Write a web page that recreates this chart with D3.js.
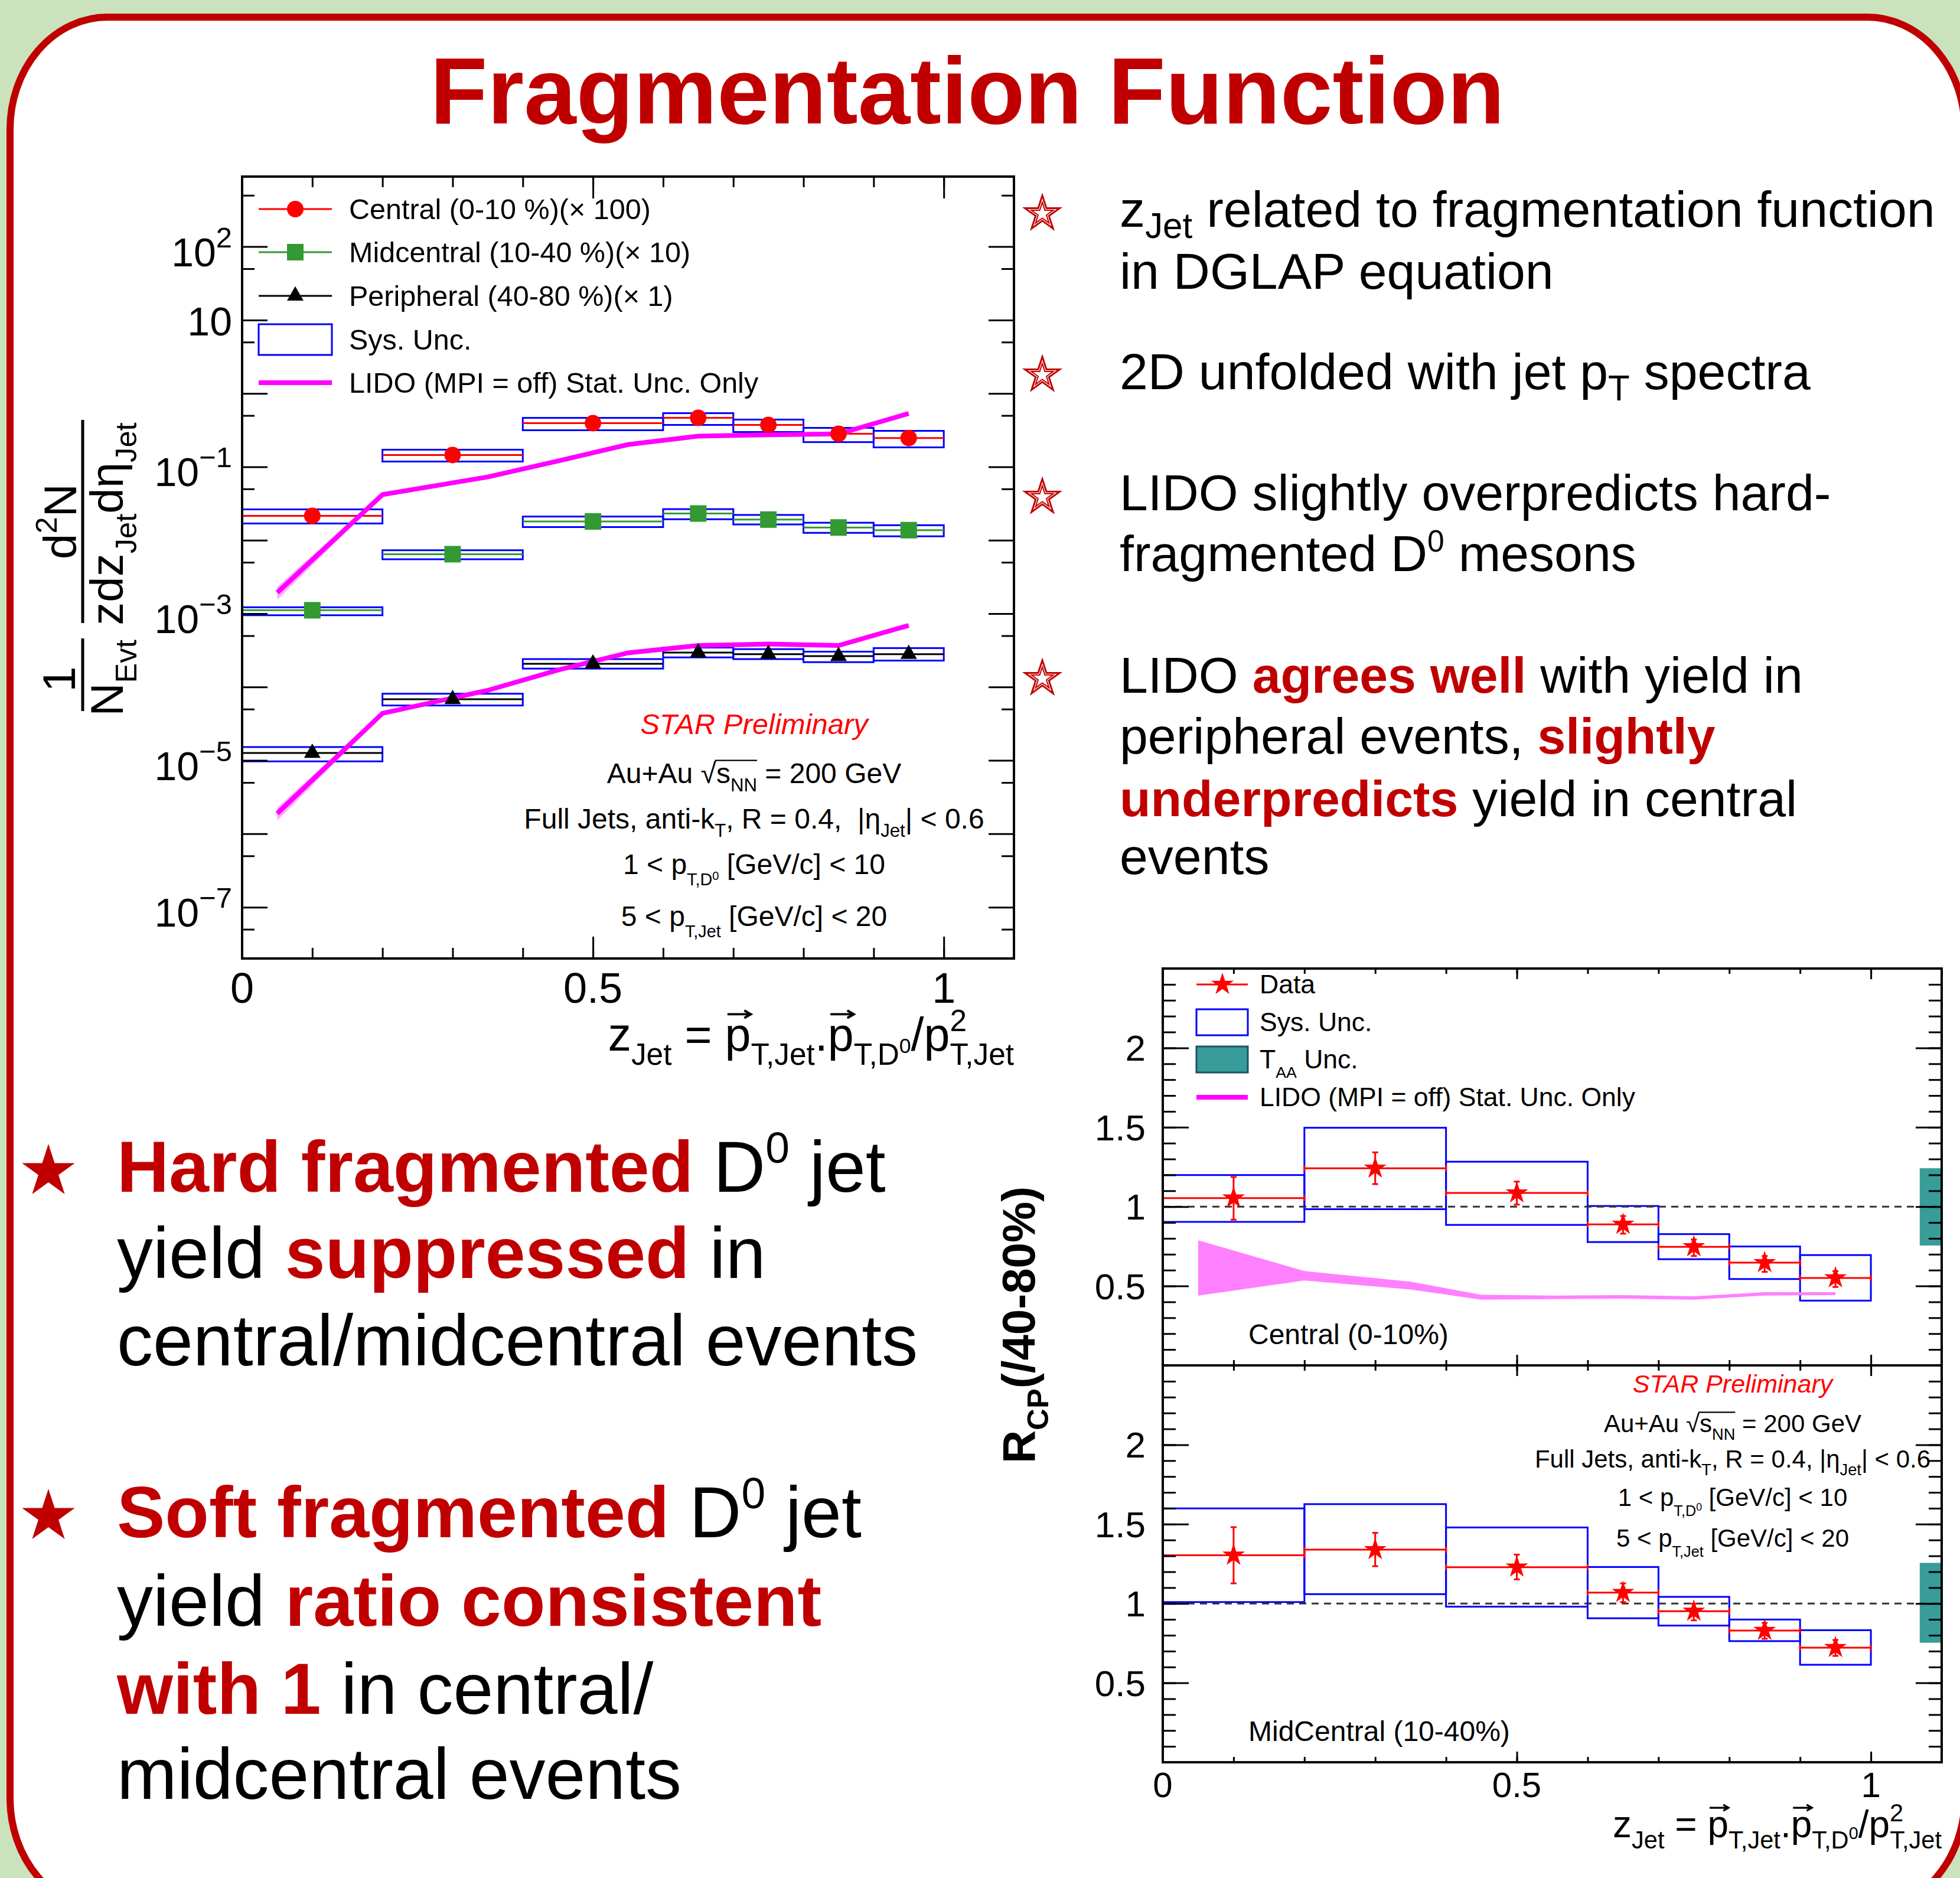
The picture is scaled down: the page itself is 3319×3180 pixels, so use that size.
<!DOCTYPE html>
<html>
<head>
<meta charset="utf-8">
<script src="https://cdn.jsdelivr.net/npm/d3@7"></script>
<style>
body { margin: 0; background: #cbe3bd; }
text { font-family: "Liberation Sans", Arial, Helvetica, sans-serif; white-space: pre; }
</style>
</head>
<body>
<script>
// bins of z_Jet
var binLo = [0, 0.2, 0.4, 0.6, 0.7, 0.8, 0.9];
var binHi = [0.2, 0.4, 0.6, 0.7, 0.8, 0.9, 1.0];
var binMid = [0.1, 0.3, 0.5, 0.65, 0.75, 0.85, 0.95];

// fragmentation function yields (scaled as in legend)
var centralY = [0.0215, 0.145, 0.393, 0.464, 0.372, 0.282, 0.247];
var centralSysHi = [0.0263, 0.171, 0.464, 0.538, 0.44, 0.339, 0.309];
var centralSysLo = [0.0169, 0.118, 0.315, 0.372, 0.298, 0.217, 0.184];
var midY = [0.00111, 0.00645, 0.0180, 0.0231, 0.0191, 0.0149, 0.0137];
var midSysHi = [0.00122, 0.0073, 0.0210, 0.0265, 0.0221, 0.0173, 0.0160];
var midSysLo = [0.00095, 0.0055, 0.0151, 0.0193, 0.0164, 0.0126, 0.0113];
var periY = [1.26e-5, 6.8e-5, 2.07e-4, 2.94e-4, 2.8e-4, 2.63e-4, 2.8e-4];
var periSysHi = [1.52e-5, 8.1e-5, 2.4e-4, 3.45e-4, 3.28e-4, 3.03e-4, 3.39e-4];
var periSysLo = [9.7e-6, 5.6e-5, 1.78e-4, 2.53e-4, 2.4e-4, 2.18e-4, 2.29e-4];

// LIDO (MPI = off)
var lidoX = [0.05, 0.2, 0.35, 0.45, 0.55, 0.65, 0.75, 0.85, 0.95];
var lidoCentral = [1.93e-3, 0.0418, 0.0728, 0.12, 0.201, 0.262, 0.273, 0.28, 0.533];
var lidoPeri = [1.89e-6, 4.37e-5, 9.0e-5, 1.7e-4, 2.92e-4, 3.67e-4, 3.85e-4, 3.67e-4, 6.9e-4];
var lidoRelErr = [0.2, 0.05, 0.03, 0.03, 0.02, 0.02, 0.02, 0.02, 0.02];

// R_CP
var rcpCentral = [1.054, 1.242, 1.086, 0.888, 0.747, 0.647, 0.551];
var rcpCentralStatHi = [1.187, 1.342, 1.158, 0.941, 0.793, 0.689, 0.594];
var rcpCentralStatLo = [0.918, 1.142, 1.013, 0.830, 0.689, 0.589, 0.494];
var rcpCentralSysHi = [1.199, 1.497, 1.283, 1.004, 0.827, 0.749, 0.695];
var rcpCentralSysLo = [0.904, 0.984, 0.885, 0.777, 0.669, 0.544, 0.408];
var rcpMid = [1.304, 1.339, 1.229, 1.069, 0.951, 0.83, 0.722];
var rcpMidStatHi = [1.481, 1.445, 1.308, 1.127, 0.999, 0.878, 0.77];
var rcpMidStatLo = [1.127, 1.235, 1.152, 1.009, 0.894, 0.778, 0.67];
var rcpMidSysHi = [1.599, 1.626, 1.479, 1.23, 1.042, 0.899, 0.832];
var rcpMidSysLo = [1.009, 1.059, 0.980, 0.907, 0.861, 0.763, 0.614];
var lidoRcpHi = [0.788, 0.594, 0.527, 0.445, 0.44, 0.443, 0.435, 0.461, 0.461];
var lidoRcpLo = [0.439, 0.535, 0.478, 0.414, 0.418, 0.42, 0.414, 0.44, 0.443];
var taaCentral = [0.755, 1.242];
var taaMid = [0.753, 1.256];

// tick labels
var logTicks = [1e2, 1e1, 1e-1, 1e-3, 1e-5, 1e-7];
var logTickExp = ["2", "", "\u22121", "\u22123", "\u22125", "\u22127"];
var zTicks = [0, 0.5, 1];
var zTickLabels = ["0", "0.5", "1"];
var rcpTicks = [0.5, 1, 1.5, 2];
var rcpTickLabels = ["0.5", "1", "1.5", "2"];

var W = 3319, H = 3180;
var RED = "#c00000";

var svg = d3.select("body").append("svg")
    .attr("width", W)
    .attr("height", H);

svg.append("rect")
    .attr("width", W)
    .attr("height", H)
    .attr("fill", "#cbe3bd");

svg.append("rect")
    .attr("x", 17)
    .attr("y", 29)
    .attr("width", 3310)
    .attr("height", 3206)
    .attr("rx", 165)
    .attr("ry", 190)
    .attr("fill", "#fff")
    .attr("stroke", RED)
    .attr("stroke-width", 12);

// text with sub/superscripts; parts are strings or {t, sh, sc, bold, fill, arrow, over}
function rich(x, y, size, parts, opts) {
    opts = opts || {};
    var t = (opts.parent || svg).append("text")
        .attr("x", x)
        .attr("y", y)
        .attr("xml:space", "preserve")
        .attr("font-size", size)
        .attr("text-anchor", opts.anchor || "start")
        .attr("fill", opts.fill || "#000");
    if (opts.weight) t.attr("font-weight", opts.weight);
    if (opts.style) t.attr("font-style", opts.style);
    var shift = 0, idx = 0, arrows = [], overs = [];
    parts.forEach(function(p) {
        if (typeof p === "string") p = {t: p};
        var sh = (p.sh || 0) * size;
        var ts = t.append("tspan").attr("dy", sh - shift).text(p.t);
        if (p.sc) ts.attr("font-size", size * p.sc);
        if (p.dx) ts.attr("dx", p.dx * size);
        if (p.fill) ts.attr("fill", p.fill);
        if (p.bold) ts.attr("font-weight", "bold");
        if (p.arrow) arrows.push(idx);
        if (p.over) for (var k = 0; k < p.t.length; k++) overs.push(idx + k);
        idx += p.t.length;
        shift = sh;
    });
    var node = t.node(), g = opts.parent || svg;
    arrows.forEach(function(i) {
        var e = node.getExtentOfChar(i);
        var ay = y - 0.78 * size, a0 = e.x + 0.1 * e.width, a1 = e.x + e.width;
        g.append("path")
            .attr("d", "M" + a0 + "," + ay + "H" + a1 + "M" + (a1 - 0.14 * size) + "," + (ay - 0.08 * size) +
                "L" + a1 + "," + ay + "L" + (a1 - 0.14 * size) + "," + (ay + 0.08 * size))
            .attr("fill", "none")
            .attr("stroke", "#000")
            .attr("stroke-width", 0.05 * size);
    });
    if (overs.length) {
        var xs = overs.map(function(i) { var e = node.getExtentOfChar(i); return [e.x, e.x + e.width]; });
        g.append("line")
            .attr("x1", d3.min(xs, function(d) { return d[0]; }) - 0.04 * size)
            .attr("x2", d3.max(xs, function(d) { return d[1]; }))
            .attr("y1", y - 0.8 * size)
            .attr("y2", y - 0.8 * size)
            .attr("stroke", "#000")
            .attr("stroke-width", 0.05 * size);
    }
    return t;
}

function sub(s, sc) { return {t: s, sh: 0.3, sc: sc || 0.65}; }
function sup(s, sc) { return {t: s, sh: -0.42, sc: sc || 0.65}; }

function inTicks(scale, axisFn, tr, vals, len) {
    var g = svg.append("g")
        .attr("transform", tr)
        .call(axisFn(scale).tickValues(vals).tickSize(-len).tickSizeOuter(0).tickFormat(""));
    g.select(".domain").remove();
    g.selectAll(".tick line").attr("stroke", "#000").attr("stroke-width", 3);
}

// title
svg.append("text")
    .attr("x", 1638)
    .attr("y", 209)
    .text("Fragmentation Function")
    .attr("text-anchor", "middle")
    .attr("font-size", 159)
    .attr("font-weight", "bold")
    .attr("fill", RED);

// ================= fragmentation function plot =================
var fx = d3.scaleLinear().domain([0, 1.1]).range([410, 1717]);
var fy = d3.scaleLog().domain([2e-8, 900]).range([1623, 299]);

var ffSeries = [
    {y: centralY, lo: centralSysLo, hi: centralSysHi, color: "#ff0000", marker: "circle"},
    {y: midY, lo: midSysLo, hi: midSysHi, color: "#339933", marker: "square"},
    {y: periY, lo: periSysLo, hi: periSysHi, color: "#000000", marker: "triangle"}
];

ffSeries.forEach(function(s) {
    svg.append("g").selectAll("rect")
        .data(s.y).enter().append("rect")
        .attr("x", function(d, i) { return fx(binLo[i]); })
        .attr("y", function(d, i) { return fy(s.hi[i]); })
        .attr("width", function(d, i) { return fx(binHi[i]) - fx(binLo[i]); })
        .attr("height", function(d, i) { return fy(s.lo[i]) - fy(s.hi[i]); })
        .attr("fill", "none")
        .attr("stroke", "#0000ff")
        .attr("stroke-width", 3);
    svg.append("g").selectAll("line")
        .data(s.y).enter().append("line")
        .attr("x1", function(d, i) { return fx(binLo[i]); })
        .attr("x2", function(d, i) { return fx(binHi[i]); })
        .attr("y1", function(d) { return fy(d); })
        .attr("y2", function(d) { return fy(d); })
        .attr("stroke", s.color)
        .attr("stroke-width", 3);
});

[lidoCentral, lidoPeri].forEach(function(vals) {
    svg.append("path")
        .datum(vals)
        .attr("d", d3.area()
            .x(function(d, i) { return fx(lidoX[i]); })
            .y0(function(d, i) { return fy(d * (1 - lidoRelErr[i])); })
            .y1(function(d, i) { return fy(d * (1 + lidoRelErr[i])); }))
        .attr("fill", "#ff66ff")
        .attr("opacity", 0.55);
    svg.append("path")
        .datum(vals)
        .attr("d", d3.line()
            .x(function(d, i) { return fx(lidoX[i]); })
            .y(function(d) { return fy(d); }))
        .attr("fill", "none")
        .attr("stroke", "#ff00ff")
        .attr("stroke-width", 8);
});

var symTri = d3.symbol().type(d3.symbolTriangle).size(340);
var symSquare = d3.symbol().type(d3.symbolSquare).size(784);
var symCircle = d3.symbol().type(d3.symbolCircle).size(616);
var symStar = d3.symbol().type(d3.symbolStar).size(450);
var markerOf = {circle: symCircle, square: symSquare, triangle: symTri};

ffSeries.forEach(function(s) {
    svg.append("g").selectAll("path")
        .data(s.y).enter().append("path")
        .attr("d", markerOf[s.marker])
        .attr("transform", function(d, i) { return "translate(" + fx(binMid[i]) + "," + fy(d) + ")"; })
        .attr("fill", s.color);
});

// ticks
var decades = [1e-7, 1e-6, 1e-5, 1e-4, 1e-3, 1e-2, 1e-1, 1, 10, 100];
var halfDecades = [5e-8, 5e-7, 5e-6, 5e-5, 5e-4, 5e-3, 5e-2, 5e-1, 5, 50, 500];
var zMinor = d3.range(1, 11).map(function(i) { return i / 10; });
inTicks(fy, d3.axisLeft, "translate(410,0)", decades, 43);
inTicks(fy, d3.axisLeft, "translate(410,0)", halfDecades, 21);
inTicks(fy, d3.axisRight, "translate(1717,0)", decades, 43);
inTicks(fy, d3.axisRight, "translate(1717,0)", halfDecades, 21);
inTicks(fx, d3.axisTop, "translate(0,299)", [0.5, 1], 37);
inTicks(fx, d3.axisTop, "translate(0,299)", zMinor, 18);
inTicks(fx, d3.axisBottom, "translate(0,1623)", [0.5, 1], 37);
inTicks(fx, d3.axisBottom, "translate(0,1623)", zMinor, 18);

svg.append("rect")
    .attr("x", 410)
    .attr("y", 299)
    .attr("width", 1307)
    .attr("height", 1324)
    .attr("fill", "none")
    .attr("stroke", "#000")
    .attr("stroke-width", 4);

logTicks.forEach(function(v, i) {
    var parts = logTickExp[i] ? ["10", {t: logTickExp[i], sh: -0.47, sc: 0.72}] : ["10"];
    rich(393, fy(v) + (logTickExp[i] ? 33 : 26), 68, parts, {anchor: "end"});
});
zTicks.forEach(function(v, i) {
    svg.append("text")
        .attr("x", fx(v))
        .attr("y", 1698)
        .text(zTickLabels[i])
        .attr("text-anchor", "middle")
        .attr("font-size", 72);
});

rich(1717, 1779, 79, ["z", sub("Jet"), " = ", {t: "p", arrow: true}, sub("T,Jet"), ".",
    {t: "p", arrow: true}, sub("T,D"), {t: "0", sh: 0.05, sc: 0.45}, {t: "/p"}, sup("2"),
    {t: "T,Jet", sh: 0.3, sc: 0.65, dx: -0.36}], {anchor: "end"});

// y title (rotated fraction)
var yt = svg.append("g").attr("transform", "rotate(-90)");
rich(-1150, 127, 78, ["1"], {parent: yt, anchor: "middle"});
rich(-1148, 208, 78, ["N", sub("Evt")], {parent: yt, anchor: "middle"});
rich(-883, 129, 78, ["d", sup("2"), "N"], {parent: yt, anchor: "middle"});
rich(-887, 208, 78, ["zdz", sub("Jet"), "d\u03b7", sub("Jet")], {parent: yt, anchor: "middle"});
svg.append("line").attr("x1", 140).attr("x2", 140).attr("y1", 1081).attr("y2", 1204)
    .attr("stroke", "#000").attr("stroke-width", 5);
svg.append("line").attr("x1", 140).attr("x2", 140).attr("y1", 711).attr("y2", 1055)
    .attr("stroke", "#000").attr("stroke-width", 5);

// legend
var ffLegend = ["Central (0-10 %)(\u00d7 100)", "Midcentral (10-40 %)(\u00d7 10)", "Peripheral (40-80 %)(\u00d7 1)",
    "Sys. Unc.", "LIDO (MPI = off) Stat. Unc. Only"];
var ffLegendY = [354, 427, 501, 575, 648];
ffSeries.forEach(function(s, i) {
    svg.append("line")
        .attr("x1", 438).attr("x2", 562)
        .attr("y1", ffLegendY[i]).attr("y2", ffLegendY[i])
        .attr("stroke", s.color)
        .attr("stroke-width", 3);
    svg.append("path")
        .attr("d", markerOf[s.marker])
        .attr("transform", "translate(500," + ffLegendY[i] + ")")
        .attr("fill", s.color);
});
svg.append("rect")
    .attr("x", 438).attr("y", 549).attr("width", 124).attr("height", 52)
    .attr("fill", "none").attr("stroke", "#0000ff").attr("stroke-width", 3);
svg.append("line")
    .attr("x1", 438).attr("x2", 562).attr("y1", 648).attr("y2", 648)
    .attr("stroke", "#ff00ff").attr("stroke-width", 8);
ffLegend.forEach(function(d, i) {
    svg.append("text")
        .attr("x", 591)
        .attr("y", ffLegendY[i] + 17)
        .text(d)
        .attr("font-size", 48.5);
});

// annotation
rich(1277, 1243, 49, ["STAR Preliminary"], {anchor: "middle", fill: "#ff0000", style: "italic"});
rich(1277, 1326, 48, ["Au+Au \u221a", {t: "s", over: true}, {t: "NN", sh: 0.3, sc: 0.65, over: true}, " = 200 GeV"], {anchor: "middle"});
rich(1277, 1403, 48, ["Full Jets, anti-k", sub("T"), ", R = 0.4,  |\u03b7", sub("Jet"), "| < 0.6"], {anchor: "middle"});
rich(1277, 1480, 48, ["1 < p", {t: "T,D", sh: 0.4, sc: 0.6}, {t: "0", sh: 0.2, sc: 0.42}, " [GeV/", {t: "c", sh: 0}, "] < 10"], {anchor: "middle"});
rich(1277, 1568, 48, ["5 < p", {t: "T,Jet", sh: 0.4, sc: 0.6}, " [GeV/c] < 20"], {anchor: "middle"});

// ================= R_CP plot =================
var rx = d3.scaleLinear().domain([0, 1.1]).range([1969, 3288]);
var panels = [
    {y: d3.scaleLinear().domain([0, 2.5]).range([2312, 1640]), top: 1640, bottom: 2312,
        v: rcpCentral, sHi: rcpCentralStatHi, sLo: rcpCentralStatLo, yHi: rcpCentralSysHi, yLo: rcpCentralSysLo,
        taa: taaCentral, label: "Central (0-10%)", lido: true},
    {y: d3.scaleLinear().domain([0, 2.5]).range([2984, 2312]), top: 2312, bottom: 2984,
        v: rcpMid, sHi: rcpMidStatHi, sLo: rcpMidStatLo, yHi: rcpMidSysHi, yLo: rcpMidSysLo,
        taa: taaMid, label: "MidCentral (10-40%)", lido: false}
];
var rMinor = d3.range(1, 25).map(function(i) { return i / 10; });

panels.forEach(function(p) {
    var y = p.y;
    svg.append("g").selectAll("rect")
        .data(p.v).enter().append("rect")
        .attr("x", function(d, i) { return rx(binLo[i]); })
        .attr("y", function(d, i) { return y(p.yHi[i]); })
        .attr("width", function(d, i) { return rx(binHi[i]) - rx(binLo[i]); })
        .attr("height", function(d, i) { return y(p.yLo[i]) - y(p.yHi[i]); })
        .attr("fill", "none")
        .attr("stroke", "#0000ff")
        .attr("stroke-width", 3);
    if (p.lido) {
        svg.append("path")
            .datum(lidoX)
            .attr("d", d3.area()
                .x(function(d) { return rx(d); })
                .y0(function(d, i) { return y(lidoRcpLo[i]); })
                .y1(function(d, i) { return y(lidoRcpHi[i]); }))
            .attr("fill", "#ff80ff");
    }
    svg.append("rect")
        .attr("x", rx(1.069))
        .attr("y", y(p.taa[1]))
        .attr("width", rx(1.1) - rx(1.069))
        .attr("height", y(p.taa[0]) - y(p.taa[1]))
        .attr("fill", "#389c98");
    svg.append("line")
        .attr("x1", rx(0)).attr("x2", rx(1.1))
        .attr("y1", y(1)).attr("y2", y(1))
        .attr("stroke", "#333")
        .attr("stroke-width", 3)
        .attr("stroke-dasharray", "12,9");
    var g = svg.append("g").attr("stroke", "#ff0000").attr("stroke-width", 3);
    p.v.forEach(function(d, i) {
        g.append("line").attr("x1", rx(binLo[i])).attr("x2", rx(binHi[i])).attr("y1", y(d)).attr("y2", y(d));
        g.append("line").attr("x1", rx(binLo[i])).attr("x2", rx(binLo[i])).attr("y1", y(d) - 5).attr("y2", y(d) + 5);
        g.append("line").attr("x1", rx(binHi[i])).attr("x2", rx(binHi[i])).attr("y1", y(d) - 5).attr("y2", y(d) + 5);
        g.append("line").attr("x1", rx(binMid[i])).attr("x2", rx(binMid[i])).attr("y1", y(p.sHi[i])).attr("y2", y(p.sLo[i]));
        g.append("line").attr("x1", rx(binMid[i]) - 5).attr("x2", rx(binMid[i]) + 5).attr("y1", y(p.sHi[i])).attr("y2", y(p.sHi[i]));
        g.append("line").attr("x1", rx(binMid[i]) - 5).attr("x2", rx(binMid[i]) + 5).attr("y1", y(p.sLo[i])).attr("y2", y(p.sLo[i]));
    });
    svg.append("g").selectAll("path")
        .data(p.v).enter().append("path")
        .attr("d", symStar)
        .attr("transform", function(d, i) { return "translate(" + rx(binMid[i]) + "," + y(d) + ")"; })
        .attr("fill", "#ff0000");

    inTicks(y, d3.axisLeft, "translate(1969,0)", rcpTicks, 44);
    inTicks(y, d3.axisLeft, "translate(1969,0)", rMinor, 22);
    inTicks(y, d3.axisRight, "translate(3288,0)", rcpTicks, 44);
    inTicks(y, d3.axisRight, "translate(3288,0)", rMinor, 22);
    inTicks(rx, d3.axisTop, "translate(0," + p.top + ")", [0.5, 1], 18);
    inTicks(rx, d3.axisTop, "translate(0," + p.top + ")", zMinor, 9);
    inTicks(rx, d3.axisBottom, "translate(0," + p.bottom + ")", [0.5, 1], 18);
    inTicks(rx, d3.axisBottom, "translate(0," + p.bottom + ")", zMinor, 9);

    svg.append("rect")
        .attr("x", 1969).attr("y", p.top)
        .attr("width", 3288 - 1969).attr("height", p.bottom - p.top)
        .attr("fill", "none")
        .attr("stroke", "#000")
        .attr("stroke-width", 4);

    rcpTicks.forEach(function(v, i) {
        svg.append("text")
            .attr("x", 1940)
            .attr("y", y(v) + 22)
            .text(rcpTickLabels[i])
            .attr("text-anchor", "end")
            .attr("font-size", 62);
    });
    svg.append("text")
        .attr("x", 2114)
        .attr("y", p.bottom - 36)
        .text(p.label)
        .attr("font-size", 48);
});

zTicks.forEach(function(v, i) {
    svg.append("text")
        .attr("x", rx(v))
        .attr("y", 3043)
        .text(zTickLabels[i])
        .attr("text-anchor", "middle")
        .attr("font-size", 60);
});
rich(3288, 3111, 64, ["z", sub("Jet"), " = ", {t: "p", arrow: true}, sub("T,Jet"), ".",
    {t: "p", arrow: true}, sub("T,D"), {t: "0", sh: 0.05, sc: 0.45}, {t: "/p"}, sup("2"),
    {t: "T,Jet", sh: 0.3, sc: 0.65, dx: -0.36}], {anchor: "end"});

var rt = svg.append("g").attr("transform", "rotate(-90)");
rich(-2478, 1752, 78, ["R", sub("CP"), "(/40-80%)"], {parent: rt, weight: "bold"});

// R_CP legend
var rcpLegend = ["Data", "Sys. Unc.", "T", "LIDO (MPI = off) Stat. Unc. Only"];
var rcpLegendY = [1667, 1731, 1794, 1858];
svg.append("line").attr("x1", 2026).attr("x2", 2113).attr("y1", 1667).attr("y2", 1667)
    .attr("stroke", "#ff0000").attr("stroke-width", 3);
svg.append("path").attr("d", symStar).attr("transform", "translate(2070,1667)").attr("fill", "#ff0000");
svg.append("rect").attr("x", 2026).attr("y", 1709).attr("width", 87).attr("height", 44)
    .attr("fill", "none").attr("stroke", "#0000ff").attr("stroke-width", 3);
svg.append("rect").attr("x", 2026).attr("y", 1772).attr("width", 87).attr("height", 44)
    .attr("fill", "#389c98").attr("stroke", "#1d4f6e").attr("stroke-width", 3);
svg.append("line").attr("x1", 2026).attr("x2", 2113).attr("y1", 1858).attr("y2", 1858)
    .attr("stroke", "#ff00ff").attr("stroke-width", 8);
rcpLegend.forEach(function(d, i) {
    if (i === 2) {
        rich(2133, rcpLegendY[i] + 15, 44.5, ["T", {t: "AA", sh: 0.35, sc: 0.6}, " Unc."]);
    } else {
        svg.append("text")
            .attr("x", 2133)
            .attr("y", rcpLegendY[i] + 15)
            .text(d)
            .attr("font-size", 44.5);
    }
});

// R_CP annotation
rich(2934, 2358, 43, ["STAR Preliminary"], {anchor: "middle", fill: "#ff0000", style: "italic"});
rich(2934, 2425, 42, ["Au+Au \u221a", {t: "s", over: true}, {t: "NN", sh: 0.3, sc: 0.65, over: true}, " = 200 GeV"], {anchor: "middle"});
rich(2934, 2485, 42, ["Full Jets, anti-k", sub("T"), ", R = 0.4, |\u03b7", sub("Jet"), "| < 0.6"], {anchor: "middle"});
rich(2934, 2550, 42, ["1 < p", {t: "T,D", sh: 0.4, sc: 0.6}, {t: "0", sh: 0.2, sc: 0.42}, " [GeV/c] < 10"], {anchor: "middle"});
rich(2934, 2619, 42, ["5 < p", {t: "T,Jet", sh: 0.4, sc: 0.6}, " [GeV/c] < 20"], {anchor: "middle"});

// ================= bullet text =================
var bulletStarHollow = d3.symbol().type(d3.symbolStar).size(1079);
var bulletStarInner = d3.symbol().type(d3.symbolStar).size(420);
var rightStarY = [358, 631, 838, 1145];
rightStarY.forEach(function(cy) {
    svg.append("path").attr("d", bulletStarHollow).attr("transform", "translate(1765," + (cy + 4) + ")")
        .attr("fill", "#fff").attr("stroke", RED).attr("stroke-width", 3);
    svg.append("path").attr("d", bulletStarInner).attr("transform", "translate(1765," + (cy + 4) + ")")
        .attr("fill", "none").attr("stroke", RED).attr("stroke-width", 2);
});

var rightLines = [
    [384, ["z", {t: "Jet", sh: 0.22, sc: 0.7}, " related to fragmentation function"]],
    [489, ["in DGLAP equation"]],
    [659, ["2D unfolded with jet p", {t: "T", sh: 0.22, sc: 0.7}, " spectra"]],
    [864, ["LIDO slightly overpredicts hard-"]],
    [967, ["fragmented D", {t: "0", sh: -0.38, sc: 0.6}, " mesons"]],
    [1173, ["LIDO ", {t: "agrees well", bold: true, fill: RED}, " with yield in"]],
    [1276, ["peripheral events, ", {t: "slightly", bold: true, fill: RED}]],
    [1382, [{t: "underpredicts", bold: true, fill: RED}, " yield in central"]],
    [1480, ["events"]]
];
rightLines.forEach(function(l) { rich(1896, l[0], 86, l[1]); });

var bulletStar = d3.symbol().type(d3.symbolStar).size(2480);
[1984, 2568].forEach(function(cy) {
    svg.append("path").attr("d", bulletStar).attr("transform", "translate(82," + cy + ")").attr("fill", RED);
});

var leftLines = [
    [2018, [{t: "Hard fragmented", bold: true, fill: RED}, " D", {t: "0", sh: -0.4, sc: 0.6}, " jet"]],
    [2164, ["yield ", {t: "suppressed", bold: true, fill: RED}, " in"]],
    [2312, ["central/midcentral events"]],
    [2603, [{t: "Soft fragmented", bold: true, fill: RED}, " D", {t: "0", sh: -0.4, sc: 0.6}, " jet"]],
    [2753, ["yield ", {t: "ratio consistent", bold: true, fill: RED}]],
    [2902, [{t: "with 1", bold: true, fill: RED}, " in central/"]],
    [3046, ["midcentral events"]]
];
leftLines.forEach(function(l) { rich(198, l[0], 122, l[1]); });
</script>
</body>
</html>
